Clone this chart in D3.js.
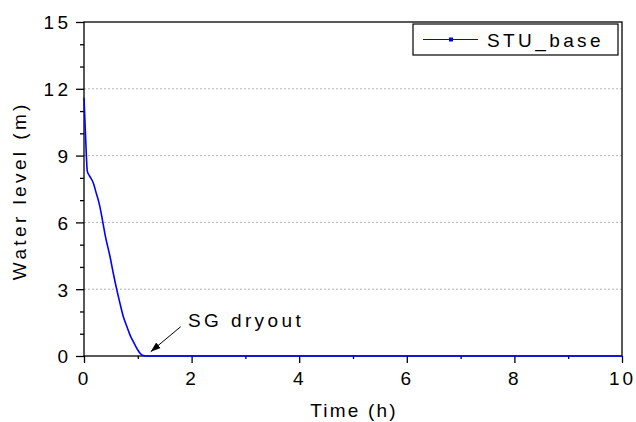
<!DOCTYPE html>
<html>
<head>
<meta charset="utf-8">
<script src="https://cdn.jsdelivr.net/npm/d3@7"></script>
<style>
  html, body { margin: 0; padding: 0; background: #fff; }
  svg text { font-family: Arial, "Liberation Sans", sans-serif; font-size: 19px; letter-spacing: 3.4px; fill: #000; }
</style>
</head>
<body>
<svg id="chart" width="636" height="422"></svg>
<script>
// Water level of the steam generator after the transient (STU_base case)
const timeH = [0, 0.03, 0.062, 0.1, 0.173, 0.235, 0.266, 0.3, 0.347, 0.4, 0.483, 0.55, 0.607, 0.67, 0.73, 0.8, 0.854, 0.9, 0.947, 1.0, 1.05, 1.1, 1.15, 2, 4, 6, 8, 10];
const levelM = [11.6, 9.8, 8.29, 8.1, 7.77, 7.25, 7.0, 6.65, 6.05, 5.35, 4.47, 3.65, 3.0, 2.35, 1.77, 1.3, 0.95, 0.72, 0.5, 0.27, 0.1, 0.02, 0, 0, 0, 0, 0, 0];
const seriesName = "STU_base";
const xTicks = [0, 2, 4, 6, 8, 10];
const xMinor = [1, 3, 5, 7, 9];
const yTicks = [0, 3, 6, 9, 12, 15];
const yMinor = [1, 2, 4, 5, 7, 8, 10, 11, 13, 14];
const gridY = [3, 6, 9, 12];

const svg = d3.select("#chart");
const plotL = 84, plotR = 622, plotT = 22, plotB = 356;
const x = d3.scaleLinear().domain([0, 10]).range([plotL, plotR]);
const y = d3.scaleLinear().domain([0, 15]).range([plotB, plotT]);
const LS = 3.4; // letter spacing trails each glyph, so shift anchored text

// dotted horizontal grid
svg.append("g").selectAll("line").data(gridY).join("line")
  .attr("x1", plotL).attr("x2", plotR)
  .attr("y1", d => y(d)).attr("y2", d => y(d))
  .attr("stroke", "#b4b4b4").attr("stroke-width", 1)
  .attr("stroke-dasharray", "2,2");

// frame
svg.append("rect").attr("x", plotL).attr("y", plotT)
  .attr("width", plotR - plotL).attr("height", plotB - plotT)
  .attr("fill", "none").attr("stroke", "#000").attr("stroke-width", 1.3);

// x axis
const gx = svg.append("g").attr("transform", `translate(0,${plotB})`);
gx.call(d3.axisBottom(x).tickValues(xTicks).tickSize(7).tickPadding(6).tickFormat(d3.format("d")));
gx.append("g").call(d3.axisBottom(x).tickValues(xMinor).tickSize(3).tickFormat(""));
gx.selectAll(".domain").remove();
gx.selectAll("line").attr("stroke", "#000").attr("stroke-width", 1.3);
gx.selectAll("text").attr("font-size", null).attr("font-family", null)
  .style("letter-spacing", "3px")
  .attr("dy", "0.78em").attr("y", 14.5);

// y axis
const gy = svg.append("g").attr("transform", `translate(${plotL},0)`);
gy.call(d3.axisLeft(y).tickValues(yTicks).tickSize(8).tickPadding(8).tickFormat(d3.format("d")));
gy.append("g").call(d3.axisLeft(y).tickValues(yMinor).tickSize(4).tickFormat(""));
gy.selectAll(".domain").remove();
gy.selectAll("line").attr("stroke", "#000").attr("stroke-width", 1.3);
gy.selectAll("text").attr("font-size", null).attr("font-family", null)
  .attr("dx", LS).attr("dy", "0.36em");

// axis titles
svg.append("text").attr("x", (plotL + plotR) / 2 + 1).attr("y", 417)
  .attr("text-anchor", "middle").style("letter-spacing", "2.2px").text("Time (h)");
svg.append("text")
  .attr("transform", `translate(26,${(plotT + plotB) / 2 + LS / 2}) rotate(-90)`)
  .attr("text-anchor", "middle").text("Water level (m)");

// series
const pts = timeH.map((t, i) => [t, levelM[i]]);
svg.append("path").datum(pts)
  .attr("fill", "none").attr("stroke", "#0000ff").attr("stroke-width", 1.6)
  .attr("d", d3.line().x(d => x(d[0])).y(d => y(d[1])).curve(d3.curveMonotoneX));

// annotation
svg.append("defs").append("marker")
  .attr("id", "arrowhead").attr("viewBox", "0 0 10 10")
  .attr("refX", 10).attr("refY", 5)
  .attr("markerWidth", 10).attr("markerHeight", 10)
  .attr("markerUnits", "userSpaceOnUse").attr("orient", "auto")
  .append("path").attr("d", "M0,1.5 L10,5 L0,8.5 Z").attr("fill", "#000");
svg.append("line")
  .attr("x1", 180.7).attr("y1", 326.7).attr("x2", 150.7).attr("y2", 351.7)
  .attr("stroke", "#000").attr("stroke-width", 1)
  .attr("marker-end", "url(#arrowhead)");
svg.append("text").attr("x", 188).attr("y", 326.5).text("SG dryout");

// legend
const lg = svg.append("g");
lg.append("rect").attr("x", 413).attr("y", 24).attr("width", 205).attr("height", 31)
  .attr("fill", "#fff").attr("stroke", "#000").attr("stroke-width", 1.2);
lg.append("line").attr("x1", 423).attr("x2", 478).attr("y1", 39.5).attr("y2", 39.5)
  .attr("stroke", "#0000ff").attr("stroke-width", 1.2);
lg.append("rect").attr("x", 449).attr("y", 37.5).attr("width", 4).attr("height", 4)
  .attr("fill", "#0000ff");
lg.append("text").attr("x", 487).attr("y", 46.5).text(seriesName);
</script>
</body>
</html>
